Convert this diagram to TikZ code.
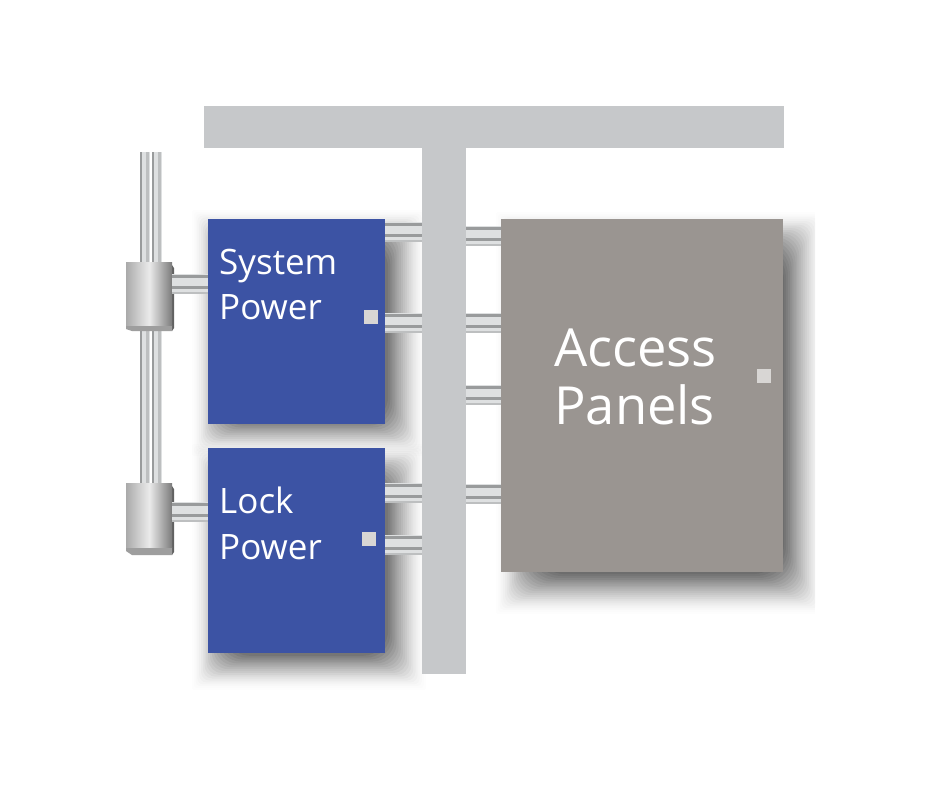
\documentclass[tikz,border=0pt]{standalone}
\usepackage{fontspec}
\setmainfont{Open Sans}
\definecolor{tgrey}{HTML}{C6C8CA}
\definecolor{pblue}{HTML}{3C53A4}
\definecolor{pgrey}{HTML}{9A9591}
\definecolor{led}{HTML}{D8D6D4}
\definecolor{sdark}{HTML}{999B9C}
\definecolor{slight}{HTML}{DEE0E1}
\definecolor{smid}{HTML}{BDBFC0}
\tikzset{
  panel/.style={draw=none,inner sep=0pt,minimum width=#1,anchor=north west},
  led box/.style={fill=led,draw=none,inner sep=0pt,minimum size=14pt},
  blue label/.style={text=white,font=\fontsize{35}{45.5}\selectfont,align=left,anchor=north west,inner sep=0pt},
  big label/.style={text=white,font=\fontsize{52.5}{57.5}\selectfont,align=left,anchor=north west,inner sep=0pt},
  tbar/.style={fill=tgrey,draw=none,inner sep=0pt,anchor=north west},
}
% horizontal cable bundle between two named nodes: \hbundle{from}{to}{top y}
\newcommand{\hbundle}[3]{%
  \fill[slight] (#1.east |- 0,#3) rectangle (#2.west |- 0,#3+20);
  \draw[sdark,line width=3pt] (#1.east |- 0,#3+2) -- (#2.west |- 0,#3+2);
  \draw[sdark,line width=3pt] (#1.east |- 0,#3+13) -- (#2.west |- 0,#3+13);
  \draw[smid,line width=1.6pt] (#1.east |- 0,#3+19) -- (#2.west |- 0,#3+19);
}
% vertical cable bundle from named coordinate to named coordinate
\newcommand{\vbundle}[2]{%
  \foreach \dx in {0,12}{%
    \fill[slight] ([xshift=\dx pt]#1) rectangle ([xshift=\dx pt+10pt]#2);
    \draw[sdark,line width=1.6pt] ([xshift=\dx pt+.8pt]#1) -- ([xshift=\dx pt+.8pt]#1 |- #2);
    \draw[smid,line width=2.2pt] ([xshift=\dx pt+7.5pt]#1) -- ([xshift=\dx pt+7.5pt]#1 |- #2);
  }%
}
% cylinder block: \cyl{name}{top y}{face y}{bottom y}
\newcommand{\cyl}[4]{%
  \fill[black!62] (172,#2+3) -- (174,#2+6) -- (174,#4-3) -- (172,#4) -- cycle;
  \fill[black!38] (126,#3) -- (172,#3) -- (172,#4) -- (132,#4) -- (126,#3+4) -- cycle;
  \node[inner sep=0pt,minimum width=46pt,minimum height=#3-#2,anchor=north west,
        left color=black!33,right color=black!52,middle color=black!8,shading angle=90] (#1) at (126,#2) {};
}
\begin{document}
\begin{tikzpicture}[x=1pt,y=-1pt]
\useasboundingbox (0,0) rectangle (940,788);
\fill[white] (0,0) rectangle (940,788);
% soft shadows
\begin{scope}
\clip (0,200) rectangle (815,700);
\foreach \i [evaluate=\i as \op using {0.006+0.0028*\i}] in {0,...,21}{
  \fill[black,opacity=\op,rounded corners=\i*1.4pt+2pt] (496+\i*1.8,212+\i*1.8) rectangle (824-\i*1.9,614-\i*1.9);
}
\foreach \i [evaluate=\i as \op using {0.006+0.0035*\i}] in {0,...,18}{
  \fill[black,opacity=\op,rounded corners=\i*1.3pt+2pt] (192+\i*1.8,210+\i*1.8) rectangle (426-\i*2.1,456-\i*1.9);
  \fill[black,opacity=\op,rounded corners=\i*1.3pt+2pt] (192+\i*1.8,444+\i*1.8) rectangle (426-\i*2.1,690-\i*1.9);
}
\end{scope}
% T bus
\node[tbar,minimum width=580pt,minimum height=42pt] (tb) at (204,106) {};
\node[tbar,minimum width=44pt,minimum height=526pt] (stem) at (422,148) {};
% panels
\node[panel=177pt,fill=pblue,minimum height=205pt] (sys) at (208,219) {};
\node[panel=177pt,fill=pblue,minimum height=205pt] (lock) at (208,448) {};
\node[panel=282pt,fill=pgrey,minimum height=353pt] (acc) at (501,219) {};
% labels
\node[blue label] (syst) at (219,248.5) {System\\Power};
\node[blue label] (lockt) at (219,487) {Lock\\Power};
\node[big label] (acct) at (554,329) {Access\\Panels};
\node[led box] (l1) at (371,316.5) {};
\node[led box] (l2) at (369,538.5) {};
\node[led box] (l3) at (764,375.5) {};
% T to panels
\hbundle{sys}{stem}{222}
\hbundle{sys}{stem}{313}
\hbundle{lock}{stem}{483}
\hbundle{lock}{stem}{535}
\hbundle{stem}{acc}{226}
\hbundle{stem}{acc}{313}
\hbundle{stem}{acc}{385}
\hbundle{stem}{acc}{484}
% risers
\coordinate (r0) at (140,152);
\coordinate (r1) at (140,262);
\coordinate (r2) at (140,328);
\coordinate (r3) at (140,484);
\vbundle{r0}{r1}
\vbundle{r2}{r3}
% blocks
\cyl{c1}{262}{325}{331}
\cyl{c2}{483}{547}{555}
\hbundle{c1}{sys}{274}
\hbundle{c2}{lock}{502}
\end{tikzpicture}
\end{document}
